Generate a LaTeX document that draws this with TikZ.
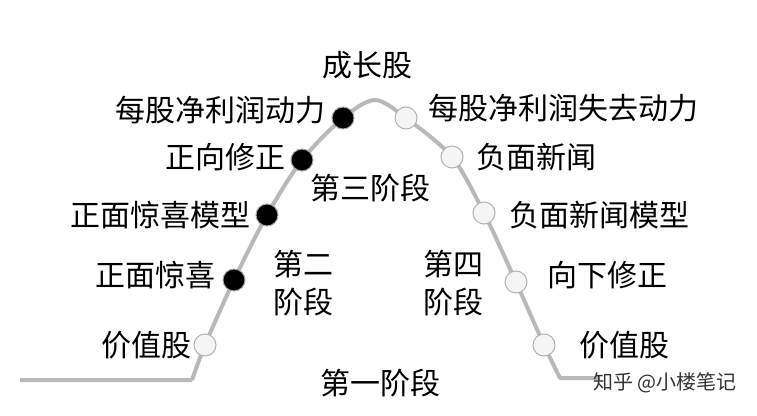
\documentclass[tikz,border=0pt]{standalone}
\usepackage{fontspec}
\setmainfont{Noto Sans CJK SC}
\begin{document}
\begin{tikzpicture}[x=1pt,y=-1pt,
  lab/.style={font=\fontsize{30}{34}\selectfont,inner sep=0pt},
  bdot/.style={circle,minimum size=22pt,fill=black,draw=gray!70,line width=1pt,inner sep=0pt},
  wdot/.style={circle,minimum size=22pt,fill=gray!8,draw=gray!60,line width=1pt,inner sep=0pt}]
\useasboundingbox (0,0) rectangle (757,415);
\coordinate (s) at (20,380);
\coordinate (e) at (600,378);
\draw[gray!55,line width=4pt,line join=round] (s) -- (192,380) plot[smooth,tension=0.5] coordinates{(192,380)(205,345)(234,280)(267,215)(302,160)(343,118)(375,100)(406,118)(452,157)(484,213)(516,282)(544,345)(560,378)} -- (e);
\node[bdot] (b1) at (343,118) {};
\node[bdot] (b2) at (302,160) {};
\node[bdot] (b3) at (267,215) {};
\node[bdot] (b4) at (234,280) {};
\node[wdot] (w0) at (205,345) {};
\node[wdot] (w1) at (406,118) {};
\node[wdot] (w2) at (452,157) {};
\node[wdot] (w3) at (484,213) {};
\node[wdot] (w4) at (516,282) {};
\node[wdot] (w5) at (544,345) {};
\node[lab] (t0) at (367,65) {成长股};
\node[lab,anchor=east] (l1) at (326,110) {每股净利润动力};
\node[lab,anchor=east] (l2) at (286,157) {正向修正};
\node[lab,anchor=east] (l3) at (251,215) {正面惊喜模型};
\node[lab,anchor=east] (l4) at (216,275) {正面惊喜};
\node[lab,anchor=east] (l5) at (192,345) {价值股};
\node[lab,anchor=west] (r1) at (428,108) {每股净利润失去动力};
\node[lab,anchor=west] (r2) at (476,157) {负面新闻};
\node[lab,anchor=west] (r3) at (509,215) {负面新闻模型};
\node[lab,anchor=west] (r4) at (547,275) {向下修正};
\node[lab,anchor=west] (r5) at (579,345) {价值股};
\node[lab] (p3) at (370,188) {第三阶段};
\node[lab,align=center] (p2) at (303,283) {第二\\[4pt]阶段};
\node[lab,align=center] (p4) at (453,283) {第四\\[4pt]阶段};
\node[lab] (p1) at (380,383) {第一阶段};
\node[font=\fontsize{20}{24}\selectfont,text=black!80,inner sep=0pt] (wm) at (665,383) {知乎 @小楼笔记};
\end{tikzpicture}
\end{document}
